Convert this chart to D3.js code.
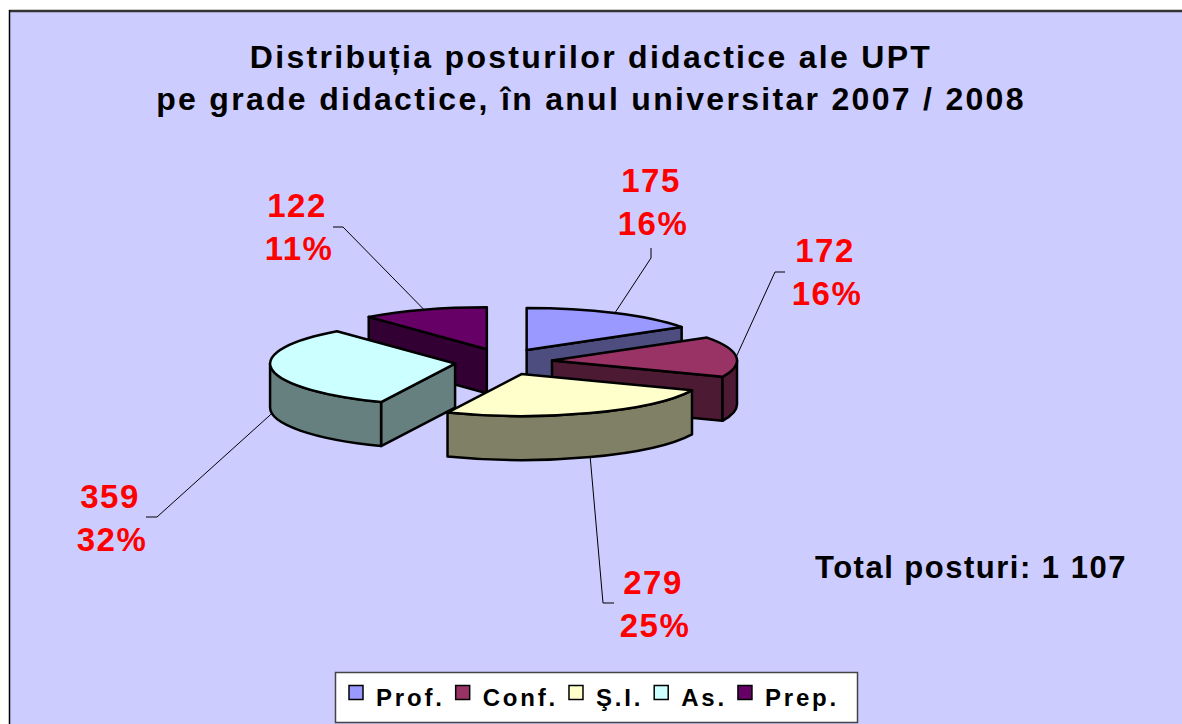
<!DOCTYPE html>
<html>
<head>
<meta charset="utf-8">
<title>Distributia posturilor didactice UPT</title>
<script src="https://cdn.jsdelivr.net/npm/d3@7"></script>
<style>
  body { margin: 0; background: #fff; }
  svg text { font-family: "Liberation Sans", Arial, sans-serif; font-weight: bold; }
</style>
</head>
<body>
<div id="chart"></div>
<script>
// data
var categories = ['Prof.', 'Conf.', 'Ş.I.', 'As.', 'Prep.'];
var values = [175, 172, 279, 359, 122];
var titleLines = ['Distribuția posturilor didactice ale UPT',
                  'pe grade didactice, în anul universitar 2007 / 2008'];
var totalLabel = 'Total posturi: 1 107';

// styles
var topColors = ['#9999FF', '#993366', '#FFFFCC', '#CCFFFF', '#660066'];

// label layout (label centre, leader knee and end), same order as categories
var labelLayout = [
  { x: 651, y: 192, knee: [651, 258], end: [651, 248] },
  { x: 825, y: 262, knee: [775, 272], end: [785, 272] },
  { x: 653, y: 594, knee: [603, 603], end: [614, 603] },
  { x: 110, y: 508, knee: [157, 517], end: [146, 517] },
  { x: 297, y: 217, knee: [343, 227], end: [333, 227] }
];

var width = 1182;
var height = 724;

var cx = 503.4, cy = 361.7;      // pie centre
var rx = 185, ry = 42;           // ellipse radii of the top face
var explodeX = 48.8, explodeY = 13.3;
var depth = 44;

var svg = d3.select('#chart')
  .append('svg')
  .attr('width', width)
  .attr('height', height);

// chart area
svg.append('rect')
  .attr('x', 9).attr('y', 10)
  .attr('width', width - 9).attr('height', height - 10)
  .attr('fill', '#CCCCFF');
svg.append('line')
  .attr('x1', 9).attr('x2', width).attr('y1', 11).attr('y2', 11)
  .attr('stroke', '#333').attr('stroke-width', 2.5);
svg.append('line')
  .attr('x1', 9.5).attr('x2', 9.5).attr('y1', 10).attr('y2', height)
  .attr('stroke', '#000').attr('stroke-width', 1.5);

// title
svg.selectAll('.title')
  .data(titleLines)
  .enter()
  .append('text')
  .attr('class', 'title')
  .attr('x', 591)
  .attr('y', function(d, i) { return 68 + i * 42; })
  .attr('text-anchor', 'middle')
  .attr('font-size', 32)
  .attr('letter-spacing', 2.3)
  .attr('fill', '#000')
  .text(function(d) { return d; });

// pie angles
var pie = d3.pie().sort(null).value(function(d) { return d; });
var arcs = pie(values);
var total = d3.sum(values);

arcs.forEach(function(a, i) {
  a.index = i;
  a.mid = (a.startAngle + a.endAngle) / 2;
  a.ox = cx + explodeX * Math.sin(a.mid);
  a.oy = cy - explodeY * Math.cos(a.mid);
});

function rim(a, ang, dy) {
  return [a.ox + rx * Math.sin(ang), a.oy - ry * Math.cos(ang) + (dy || 0)];
}

function topPath(a) {
  var p0 = rim(a, a.startAngle), p1 = rim(a, a.endAngle);
  var large = (a.endAngle - a.startAngle) > Math.PI ? 1 : 0;
  return 'M' + a.ox + ',' + a.oy + 'L' + p0 + 'A' + rx + ',' + ry + ' 0 ' + large + ' 1 ' + p1 + 'Z';
}

function wallPath(a, s, e) {
  var p0 = rim(a, s), p1 = rim(a, e), q1 = rim(a, e, depth), q0 = rim(a, s, depth);
  return 'M' + p0 + 'A' + rx + ',' + ry + ' 0 0 1 ' + p1 + 'L' + q1 +
         'A' + rx + ',' + ry + ' 0 0 0 ' + q0 + 'Z';
}

function facePath(a, ang) {
  var p = rim(a, ang);
  return 'M' + a.ox + ',' + a.oy + 'L' + p + 'L' + [p[0], p[1] + depth] +
         'L' + [a.ox, a.oy + depth] + 'Z';
}

function sideColor(c) {
  var k = d3.rgb(c);
  return d3.rgb(k.r * 0.5, k.g * 0.5, k.b * 0.5).formatHex();
}

var order = arcs.slice().sort(function(a, b) { return -Math.cos(a.mid) + Math.cos(b.mid); });

var pieG = svg.append('g')
  .attr('stroke', '#000')
  .attr('stroke-width', 2.5)
  .attr('stroke-linejoin', 'round');

order.forEach(function(a) {
  var g = pieG.append('g');
  var side = sideColor(topColors[a.index]);
  if (Math.sin(a.startAngle) < -1e-6) {
    g.append('path').attr('d', facePath(a, a.startAngle)).attr('fill', side);
  }
  if (Math.sin(a.endAngle) > 1e-6) {
    g.append('path').attr('d', facePath(a, a.endAngle)).attr('fill', side);
  }
  var s = Math.max(a.startAngle, Math.PI / 2);
  var e = Math.min(a.endAngle, Math.PI * 3 / 2);
  if (e > s) {
    g.append('path').attr('d', wallPath(a, s, e)).attr('fill', side);
  }
  g.append('path').attr('d', topPath(a)).attr('fill', topColors[a.index]);
});

// leader lines
svg.selectAll('.leader')
  .data(arcs)
  .enter()
  .append('polyline')
  .attr('class', 'leader')
  .attr('fill', 'none')
  .attr('stroke', '#000')
  .attr('stroke-width', 1)
  .attr('points', function(a) {
    var front = Math.cos(a.mid) < 0;
    var anchor = rim(a, a.mid, front ? depth : 0);
    var L = labelLayout[a.index];
    return [anchor, L.knee, L.end].map(function(p) { return p.join(','); }).join(' ');
  });

// data labels
var labels = svg.selectAll('.dlabel')
  .data(arcs)
  .enter()
  .append('text')
  .attr('class', 'dlabel')
  .attr('text-anchor', 'middle')
  .attr('font-size', 33)
  .attr('letter-spacing', 1.5)
  .attr('fill', '#FF0000');

labels.append('tspan')
  .attr('x', function(a) { return labelLayout[a.index].x; })
  .attr('y', function(a) { return labelLayout[a.index].y; })
  .text(function(a) { return a.data; });
labels.append('tspan')
  .attr('x', function(a) { return labelLayout[a.index].x + 2; })
  .attr('y', function(a) { return labelLayout[a.index].y + 43; })
  .text(function(a) { return Math.round(a.data / total * 100) + '%'; });

// total
svg.append('text')
  .attr('x', 815)
  .attr('y', 578)
  .attr('font-size', 31)
  .attr('letter-spacing', 1.5)
  .attr('fill', '#000')
  .text(totalLabel);

// legend
var legend = svg.append('g');
legend.append('rect')
  .attr('x', 335.5).attr('y', 672.5)
  .attr('width', 522).attr('height', 50)
  .attr('fill', '#fff')
  .attr('stroke', '#444')
  .attr('stroke-width', 1.5);

var lx = 349;
categories.forEach(function(c, i) {
  legend.append('rect')
    .attr('x', lx).attr('y', 685.5)
    .attr('width', 14).attr('height', 14)
    .attr('fill', topColors[i])
    .attr('stroke', '#000')
    .attr('stroke-width', 1.5);
  var t = legend.append('text')
    .attr('x', lx + 27)
    .attr('y', 706)
    .attr('font-size', 24)
    .attr('letter-spacing', 2.8)
    .attr('fill', '#000')
    .text(c);
  lx += 27 + t.node().getComputedTextLength() + 11;
});
</script>
</body>
</html>
